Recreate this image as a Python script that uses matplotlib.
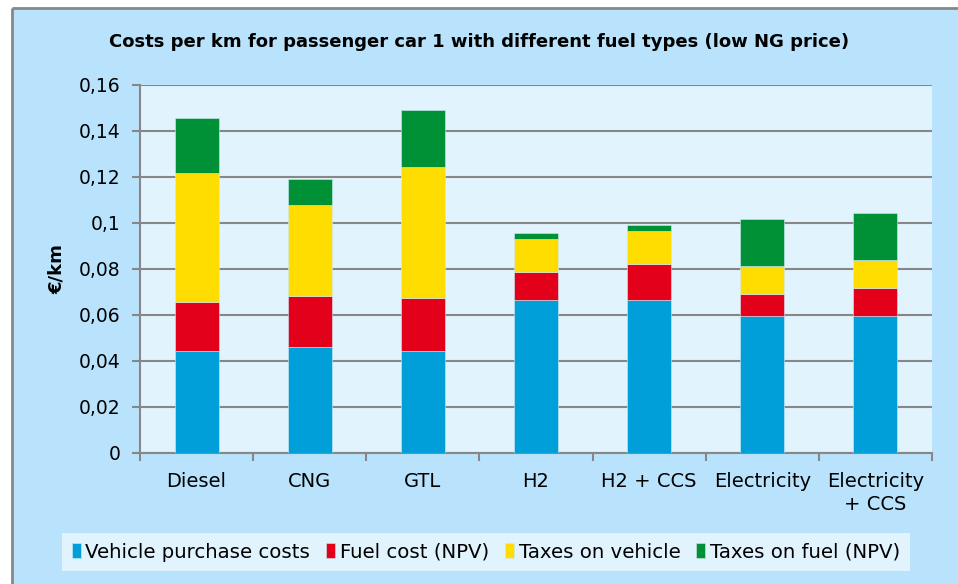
import numpy as np
import matplotlib.pyplot as plt
from matplotlib.patches import Rectangle
from matplotlib.ticker import FuncFormatter

# Data (€/km)
categories = ['Diesel', 'CNG', 'GTL', 'H2', 'H2 + CCS', 'Electricity', 'Electricity\n+ CCS']
vehicle_purchase = [0.0445, 0.0462, 0.0445, 0.0665, 0.0665, 0.0596, 0.0596]
fuel_cost = [0.0212, 0.0219, 0.0229, 0.0122, 0.0157, 0.0095, 0.0120]
taxes_vehicle = [0.0562, 0.0396, 0.0571, 0.0142, 0.0142, 0.0122, 0.0123]
taxes_fuel = [0.0236, 0.0116, 0.0245, 0.0026, 0.0026, 0.0203, 0.0203]

series_names = ['Vehicle purchase costs', 'Fuel cost (NPV)', 'Taxes on vehicle', 'Taxes on fuel (NPV)']
series_colors = ['#009fda', '#e2001a', '#ffdd00', '#009036']

OUTER_BG = '#b9e3fc'
INNER_BG = '#e1f3fd'
GRID = '#878787'

plt.rcParams['font.family'] = ['DejaVu Sans']

W, H = 958, 584
fig = plt.figure(figsize=(W / 100, H / 100), dpi=100)
fig.patch.set_facecolor(OUTER_BG)

# white margin on left/top and the gray frame border of the chart
fig.add_artist(Rectangle((0, 0), 12 / W, 1, transform=fig.transFigure,
                         facecolor='white', edgecolor='none', zorder=-10))
fig.add_artist(Rectangle((0, 1 - 8 / H), 1, 8 / H, transform=fig.transFigure,
                         facecolor='white', edgecolor='none', zorder=-10))
fig.add_artist(plt.Line2D([12 / W, 1], [1 - 8 / H, 1 - 8 / H], transform=fig.transFigure,
                          color=GRID, lw=2, zorder=-9, solid_capstyle='butt'))
fig.add_artist(plt.Line2D([12 / W, 12 / W], [0, 1 - 8 / H], transform=fig.transFigure,
                          color=GRID, lw=2, zorder=-9, solid_capstyle='butt'))

ax = fig.add_axes([140 / W, 1 - 453 / H, (932 - 140) / W, (453 - 85) / H])
ax.set_facecolor(INNER_BG)

x = np.arange(len(categories))
bottom = np.zeros(len(categories))
for vals, name, col in zip([vehicle_purchase, fuel_cost, taxes_vehicle, taxes_fuel],
                           series_names, series_colors):
    ax.bar(x, vals, width=0.39, bottom=bottom, color=col, label=name,
           edgecolor='#d0ecf8', linewidth=0.4, zorder=3)
    bottom += np.array(vals)

ax.set_xlim(-0.5, len(categories) - 0.5)
ax.set_ylim(0, 0.16)
ax.set_yticks(np.arange(0, 0.161, 0.02))
ax.yaxis.set_major_formatter(FuncFormatter(lambda v, p: f'{v:.2f}'.rstrip('0').rstrip('.').replace('.', ',') if v else '0'))
ax.yaxis.grid(True, color=GRID, lw=1.5, zorder=1)
ax.tick_params(axis='y', length=6, width=1.5, color=GRID, labelsize=13.5, pad=8)

ax.set_xticks(x)
ax.set_xticklabels(categories, fontsize=14, linespacing=1.25)
ax.set_xticks(np.arange(-0.5, len(categories)), minor=True)
ax.tick_params(axis='x', which='major', length=0, pad=14)
ax.tick_params(axis='x', which='minor', length=6, width=1.5, color=GRID)

for s in ['top', 'right']:
    ax.spines[s].set_visible(False)
ax.spines['left'].set_color(GRID)
ax.spines['left'].set_linewidth(1.5)
ax.spines['bottom'].set_color(GRID)
ax.spines['bottom'].set_linewidth(1.5)

ax.set_ylabel('€/km', fontsize=13, fontweight='bold', labelpad=9)

fig.text(0.5, 1 - 42 / H, 'Costs per km for passenger car 1 with different fuel types (low NG price)',
         ha='center', va='center', fontsize=13, fontweight='bold')

leg = fig.legend(loc='center', bbox_to_anchor=(486 / W, 1 - 552 / H), ncol=4,
                 fontsize=14.2, frameon=True, fancybox=False, handlelength=0.45,
                 handleheight=0.8, handletextpad=0.25, columnspacing=0.8, borderpad=0.5)
leg.get_frame().set_facecolor(INNER_BG)
leg.get_frame().set_edgecolor('none')
leg.get_frame().set_alpha(1)

fig.savefig('out.png', dpi=100, facecolor=fig.get_facecolor())
